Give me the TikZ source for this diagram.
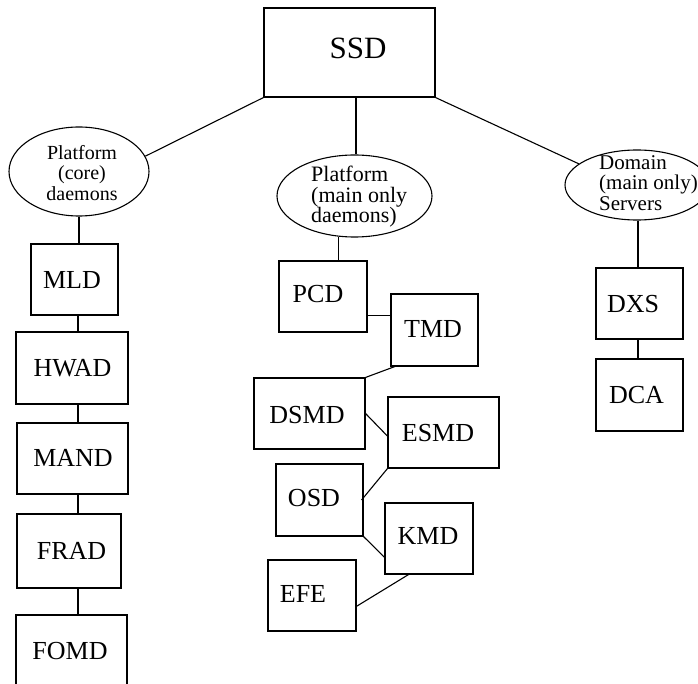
\documentclass[tikz,border=0pt]{standalone}
\usepackage{fontspec}
\setmainfont{Liberation Serif}
\usetikzlibrary{shapes.geometric,calc}
\tikzset{
  boxnode/.style={draw, rectangle, line width=1.1pt, inner sep=0pt},
  ellnode/.style={draw, ellipse, line width=1.1pt, inner sep=0pt},
  lbl/.style={inner sep=0pt, font=\fontsize{26}{28}\selectfont},
  elltxt/.style={inner sep=0pt, font=\fontsize{#1}{20.5}\selectfont},
  conn/.style={line width=1.1pt}
}
\begin{document}
\begin{tikzpicture}[x=1pt,y=-1pt]
\useasboundingbox (0,0) rectangle (698,684);
\clip (0,0) rectangle (698,684);
% top
\node[boxnode, minimum width=171pt, minimum height=89pt] (ssd) at (349.5,52.5) {};
\node[lbl, font=\fontsize{31}{33}\selectfont] (tssd) at (358,48) {SSD};
% ellipses
\node[ellnode, minimum width=140pt, minimum height=89pt] (lell) at (79,171.5) {};
\node[elltxt=20, align=center] (tlell) at (82,173) {Platform\\(core)\\daemons};
\node[ellnode, minimum width=155pt, minimum height=82pt] (mell) at (354.5,196) {};
\node[elltxt=22, align=left, anchor=west] (tmell) at (311,197) {Platform\\(main only\\daemons)};
\node[ellnode, minimum width=144pt, minimum height=70pt] (rell) at (637,185) {};
\node[elltxt=21, align=left, anchor=west] (trell) at (599,183) {Domain\\(main only)\\Servers};
% left column
\node[boxnode, minimum width=87pt, minimum height=71pt] (mld) at (74.5,279.5) {};
\node[lbl] (tmld) at (72,280) {MLD};
\node[boxnode, minimum width=112pt, minimum height=72pt] (hwad) at (72,368) {};
\node[lbl] (thwad) at (72.5,368) {HWAD};
\node[boxnode, minimum width=111pt, minimum height=71pt] (mand) at (72.5,458.5) {};
\node[lbl] (tmand) at (73,458) {MAND};
\node[boxnode, minimum width=104pt, minimum height=74pt] (frad) at (69,551) {};
\node[lbl] (tfrad) at (71.5,551) {FRAD};
\node[boxnode, minimum width=111pt, minimum height=85pt] (fomd) at (71.5,657.5) {};
\node[lbl] (tfomd) at (70,651) {FOMD};
% middle column
\node[boxnode, minimum width=88pt, minimum height=71pt] (pcd) at (323,296.5) {};
\node[lbl] (tpcd) at (318,294) {PCD};
\node[boxnode, minimum width=87pt, minimum height=72pt] (tmd) at (434.5,330) {};
\node[lbl] (ttmd) at (433,329) {TMD};
\node[boxnode, minimum width=111pt, minimum height=71pt] (dsmd) at (309.5,413.5) {};
\node[lbl] (tdsmd) at (307,415) {DSMD};
\node[boxnode, minimum width=111pt, minimum height=71pt] (esmd) at (443.5,432.5) {};
\node[lbl] (tesmd) at (438,433) {ESMD};
\node[boxnode, minimum width=87pt, minimum height=72pt] (osd) at (319.5,500) {};
\node[lbl] (tosd) at (314,498) {OSD};
\node[boxnode, minimum width=88pt, minimum height=71pt] (kmd) at (429,538.5) {};
\node[lbl] (tkmd) at (428,536) {KMD};
\node[boxnode, minimum width=88pt, minimum height=71pt] (efe) at (312,595.5) {};
\node[lbl] (tefe) at (303,594) {EFE};
% right column
\node[boxnode, minimum width=87pt, minimum height=71pt] (dxs) at (639.5,303.5) {};
\node[lbl] (tdxs) at (633,304) {DXS};
\node[boxnode, minimum width=87pt, minimum height=72pt] (dca) at (639.5,395) {};
\node[lbl] (tdca) at (636.5,395) {DCA};
% connectors
\draw[conn] (ssd.south west) -- (lell.13);
\draw[conn] ([xshift=1.5pt]mell.north |- ssd.south) -- ([xshift=1.5pt]mell.north);
\draw[conn] (ssd.south east) -- (rell.160);
\coordinate (lx) at ([xshift=-1pt]lell.south);
\draw[conn] (lell.south) -- (lell.south |- mld.north);
\draw[conn] (lx |- mld.south) -- (lx |- hwad.north);
\draw[conn] (lx |- hwad.south) -- (lx |- mand.north);
\draw[conn] (lx |- mand.south) -- (lx |- frad.north);
\draw[conn] (lx |- frad.south) -- (lx |- fomd.north);
\coordinate (pcdtop) at ($(pcd.north west)!0.67!(pcd.north east)$);
\draw[conn] (pcdtop) -- ([yshift=1pt]pcdtop |- mell.south);
\coordinate (pcdr) at ($(pcd.south east)!0.24!(pcd.north east)$);
\draw[conn] (pcdr) -- (pcdr -| tmd.west);
\draw[conn] ($(tmd.south west)!0.05!(tmd.south east)$) -- (dsmd.north east);
\draw[conn] (dsmd.east) -- ($(esmd.north west)!0.55!(esmd.south west)$);
\draw[conn] (esmd.south west) -- ([xshift=-2pt]osd.east);
\draw[conn] (osd.south east) -- ($(kmd.north west)!0.76!(kmd.south west)$);
\draw[conn] ($(kmd.south west)!0.27!(kmd.south east)$) -- ($(efe.north east)!0.65!(efe.south east)$);
\coordinate (rx) at ([xshift=1pt]rell.south);
\draw[conn] (rx) -- (rx |- dxs.north);
\draw[conn] (rx |- dxs.south) -- (rx |- dca.north);
\end{tikzpicture}
\end{document}
